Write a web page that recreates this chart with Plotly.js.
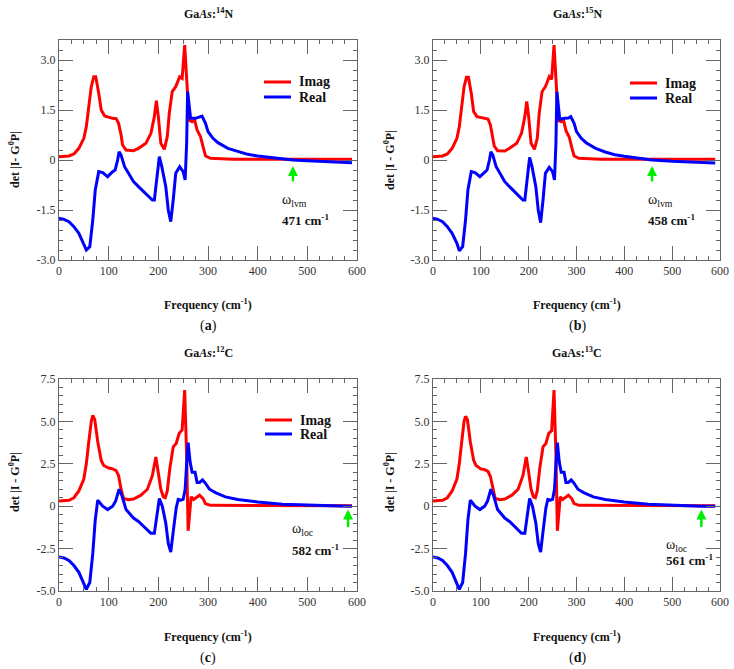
<!DOCTYPE html>
<html>
<head>
<meta charset="utf-8">
<script src="https://cdn.plot.ly/plotly-3.0.1.min.js"></script>
<style>
  html, body { margin: 0; padding: 0; background: #fff; }
  #chart { width: 734px; height: 669px; }
</style>
</head>
<body>
<div id="chart"></div>
<script>
// ---- GaAs:14N ----
const imagFreqA = [0, 20, 30, 40, 50, 55, 60, 65, 70, 74, 80, 85, 92, 100, 108, 115, 120, 125, 128, 135, 150, 160, 175, 185, 192, 196, 200, 205, 212, 218, 222, 228, 235, 243, 248, 253, 258, 262, 268, 273, 278, 285, 290, 295, 305, 350, 590];
const imagA     = [0.10, 0.12, 0.18, 0.35, 0.65, 1.0, 1.6, 2.2, 2.5, 2.5, 2.0, 1.5, 1.32, 1.28, 1.25, 1.24, 1.1, 0.75, 0.45, 0.3, 0.28, 0.35, 0.5, 0.8, 1.3, 1.78, 1.3, 0.5, 0.32, 0.7, 1.4, 2.05, 2.2, 2.5, 2.45, 3.45, 2.0, 1.2, 1.15, 1.2, 0.9, 0.7, 0.4, 0.12, 0.05, 0.02, 0.02];
const realFreqA = [0, 10, 20, 30, 40, 50, 55, 62, 68, 73, 80, 88, 98, 108, 113, 118, 121, 125, 132, 140, 150, 160, 170, 180, 188, 192, 197, 202, 207, 215, 220, 225, 230, 235, 243, 250, 254, 257, 259, 265, 275, 283, 288, 295, 300, 310, 320, 340, 360, 380, 400, 430, 460, 471, 500, 550, 590];
const realA     = [-1.75, -1.78, -1.85, -2.0, -2.2, -2.5, -2.7, -2.6, -1.8, -0.9, -0.35, -0.38, -0.5, -0.35, -0.3, 0.0, 0.25, 0.15, -0.2, -0.4, -0.65, -0.8, -0.95, -1.1, -1.2, -1.2, -0.5, 0.1, -0.2, -0.8, -1.5, -1.85, -1.2, -0.4, -0.2, -0.35, -0.6, 0.5, 2.05, 1.25, 1.25, 1.28, 1.32, 1.1, 0.85, 0.65, 0.52, 0.35, 0.25, 0.17, 0.12, 0.06, 0.02, 0.0, -0.02, -0.06, -0.08];

// ---- GaAs:15N ----
const imagFreqB = [0, 20, 30, 40, 50, 55, 60, 65, 70, 74, 80, 85, 92, 100, 108, 115, 120, 125, 128, 135, 150, 160, 175, 185, 192, 196, 200, 205, 212, 218, 222, 228, 235, 243, 248, 253, 258, 262, 268, 273, 278, 285, 290, 295, 305, 350, 590];
const imagB     = [0.10, 0.12, 0.18, 0.35, 0.65, 1.0, 1.6, 2.2, 2.48, 2.48, 2.0, 1.45, 1.3, 1.27, 1.24, 1.23, 1.05, 0.7, 0.42, 0.28, 0.27, 0.35, 0.5, 0.8, 1.3, 1.76, 1.3, 0.5, 0.32, 0.65, 1.4, 2.05, 2.2, 2.5, 2.42, 3.45, 2.0, 1.18, 1.15, 1.18, 0.88, 0.68, 0.38, 0.12, 0.05, 0.02, 0.02];
const realFreqB = [0, 10, 20, 30, 40, 50, 55, 62, 68, 73, 80, 88, 98, 108, 113, 118, 121, 125, 132, 140, 150, 160, 170, 180, 188, 192, 197, 202, 207, 215, 220, 225, 230, 235, 243, 250, 254, 257, 259, 265, 275, 283, 288, 295, 300, 310, 320, 340, 360, 380, 400, 430, 458, 500, 550, 590];
const realB     = [-1.75, -1.78, -1.85, -2.0, -2.2, -2.5, -2.72, -2.6, -1.8, -0.9, -0.35, -0.38, -0.5, -0.35, -0.3, 0.0, 0.25, 0.15, -0.2, -0.4, -0.65, -0.8, -0.95, -1.1, -1.2, -1.2, -0.5, 0.08, -0.2, -0.8, -1.5, -1.88, -1.2, -0.4, -0.22, -0.35, -0.6, 0.5, 2.05, 1.22, 1.25, 1.26, 1.3, 1.1, 0.85, 0.65, 0.52, 0.35, 0.24, 0.16, 0.11, 0.05, 0.0, -0.04, -0.07, -0.09];

// ---- GaAs:12C ----
const imagFreqC = [0, 20, 30, 40, 50, 55, 60, 65, 68, 72, 78, 85, 90, 100, 108, 115, 120, 125, 130, 140, 150, 165, 178, 188, 195, 200, 205, 210, 214, 218, 223, 230, 236, 242, 248, 253, 257, 260, 263, 266, 271, 276, 283, 290, 295, 305, 590];
const imagC     = [0.3, 0.35, 0.5, 0.9, 1.6, 2.5, 3.8, 5.0, 5.35, 5.1, 3.8, 2.7, 2.4, 2.25, 2.2, 2.1, 1.8, 1.0, 0.45, 0.38, 0.42, 0.65, 1.0, 1.8, 2.9, 2.0, 1.0, 0.55, 0.5, 0.9, 2.2, 3.5, 3.7, 4.3, 4.5, 6.85, 3.0, -1.45, -0.5, 0.55, 0.4, 0.5, 0.65, 0.45, 0.15, 0.05, 0.02];
const realFreqC = [0, 10, 20, 30, 40, 50, 55, 62, 68, 73, 78, 88, 98, 108, 114, 121, 127, 135, 150, 160, 175, 185, 192, 197, 202, 208, 215, 220, 225, 230, 236, 240, 245, 250, 254, 257, 260, 264, 268, 274, 278, 283, 289, 295, 303, 315, 335, 360, 400, 450, 500, 550, 582, 590];
const realC     = [-3.0, -3.05, -3.2, -3.5, -3.9, -4.5, -4.9, -4.5, -2.8, -0.8, 0.35, 0.0, -0.2, 0.0, 0.3, 1.0, 0.6, -0.2, -0.7, -0.9, -1.3, -1.6, -1.6, -0.7, 0.45, 0.0, -1.0, -2.2, -2.7, -1.5, -0.1, 0.4, 0.35, 0.4, 1.0, 2.5, 3.75, 2.6, 2.0, 2.0, 1.4, 1.4, 1.55, 1.35, 1.0, 0.8, 0.55, 0.4, 0.25, 0.12, 0.06, 0.02, 0.0, 0.0];

// ---- GaAs:13C ----
const imagFreqD = [0, 20, 30, 40, 50, 55, 60, 65, 68, 72, 78, 85, 90, 100, 108, 115, 120, 125, 130, 140, 150, 165, 178, 188, 195, 200, 205, 210, 214, 218, 223, 230, 236, 242, 248, 253, 257, 260, 263, 266, 271, 276, 283, 290, 295, 305, 590];
const imagD     = [0.3, 0.35, 0.5, 0.9, 1.6, 2.5, 3.8, 5.0, 5.3, 5.1, 3.8, 2.7, 2.4, 2.2, 2.15, 2.05, 1.75, 1.0, 0.45, 0.38, 0.42, 0.65, 1.0, 1.8, 2.9, 2.0, 1.0, 0.55, 0.5, 0.9, 2.2, 3.5, 3.7, 4.3, 4.45, 6.85, 3.0, -1.45, -0.5, 0.55, 0.4, 0.5, 0.65, 0.45, 0.15, 0.05, 0.02];
const realFreqD = [0, 10, 20, 30, 40, 50, 55, 62, 68, 73, 78, 88, 98, 108, 114, 121, 127, 135, 150, 160, 175, 185, 192, 197, 202, 208, 215, 220, 225, 230, 236, 240, 245, 250, 254, 257, 260, 264, 268, 274, 278, 283, 289, 295, 303, 315, 335, 360, 400, 450, 500, 561, 590];
const realD     = [-3.0, -3.05, -3.2, -3.5, -3.9, -4.5, -4.9, -4.5, -2.8, -0.8, 0.35, 0.0, -0.2, 0.0, 0.3, 1.0, 0.6, -0.2, -0.7, -0.9, -1.3, -1.6, -1.6, -0.7, 0.45, 0.0, -1.0, -2.2, -2.7, -1.5, -0.1, 0.4, 0.35, 0.4, 1.0, 2.5, 3.75, 2.6, 2.0, 2.0, 1.4, 1.4, 1.55, 1.35, 1.0, 0.8, 0.55, 0.4, 0.25, 0.12, 0.05, 0.0, -0.01];

// tick labels
const xTickVals = [0, 100, 200, 300, 400, 500, 600];
const xTickText = ['0', '100', '200', '300', '400', '500', '600'];
const yTickValsN = [-3, -1.5, 0, 1.5, 3];
const yTickTextN = ['-3.0', '-1.5', '0', '1.5', '3.0'];
const yTickValsC = [-5, -2.5, 0, 2.5, 5, 7.5];
const yTickTextC = ['-5.0', '-2.5', '0', '2.5', '5.0', '7.5'];

// series names
const seriesNames = ['Imag', 'Real'];

// local mode markers: [frequency, label]
const modeA = [471, 'ω<sub>lvm</sub>'];
const modeB = [458, 'ω<sub>lvm</sub>'];
const modeC = [582, 'ω<sub>loc</sub>'];
const modeD = [561, 'ω<sub>loc</sub>'];

const W = 734, H = 669;
const SERIF = 'Liberation Serif';
const RED = '#ff0000', BLUE = '#0000ff', GREEN = '#00ee00';
const AXIS = '#666';

function px(x) { return x / W; }
function py(y) { return 1 - y / H; }

function line(x, y, color, name, xa, ya) {
  return {
    type: 'scatter', mode: 'lines', x: x, y: y, name: name,
    xaxis: xa, yaxis: ya, showlegend: false,
    line: { color: color, width: 3 }
  };
}

const traces = [
  line(imagFreqA, imagA, RED, seriesNames[0], 'x', 'y'),
  line(realFreqA, realA, BLUE, seriesNames[1], 'x', 'y'),
  line(imagFreqB, imagB, RED, seriesNames[0], 'x2', 'y2'),
  line(realFreqB, realB, BLUE, seriesNames[1], 'x2', 'y2'),
  line(imagFreqC, imagC, RED, seriesNames[0], 'x3', 'y3'),
  line(realFreqC, realC, BLUE, seriesNames[1], 'x3', 'y3'),
  line(imagFreqD, imagD, RED, seriesNames[0], 'x4', 'y4'),
  line(realFreqD, realD, BLUE, seriesNames[1], 'x4', 'y4')
];

function xAxis(domain, anchor) {
  return {
    domain: domain, anchor: anchor, range: [0, 600],
    tickmode: 'array', tickvals: xTickVals, ticktext: xTickText,
    ticks: 'inside', ticklen: 14, tickwidth: 1, tickcolor: AXIS,
    minor: { dtick: 25, tick0: 0, ticks: 'inside', ticklen: 4, tickcolor: AXIS, tickwidth: 1 },
    showline: true, linecolor: AXIS, linewidth: 1, mirror: 'ticks',
    showgrid: false, zeroline: false,
    tickfont: { family: SERIF, size: 12, color: '#333' }
  };
}
function yAxis(domain, anchor, range, vals, text, minorStep) {
  return {
    domain: domain, anchor: anchor, range: range,
    tickmode: 'array', tickvals: vals, ticktext: text,
    ticks: 'inside', ticklen: 14, tickwidth: 1, tickcolor: AXIS,
    minor: { dtick: minorStep, tick0: 0, ticks: 'inside', ticklen: 4, tickcolor: AXIS, tickwidth: 1 },
    showline: true, linecolor: AXIS, linewidth: 1, mirror: 'ticks',
    showgrid: false, zeroline: false,
    tickfont: { family: SERIF, size: 12, color: '#333' }
  };
}

const colL = [px(59), px(357)], colR = [px(433), px(720)];
const rowT = [py(260), py(40)], rowB = [py(591), py(379)];

function txt(x, y, text, opts) {
  return Object.assign({
    xref: 'paper', yref: 'paper', x: px(x), y: py(y), text: text, showarrow: false,
    xanchor: 'center', yanchor: 'middle',
    font: { family: SERIF, size: 12, color: '#111' }
  }, opts || {});
}

const bold = { family: SERIF, size: 12, color: '#111', weight: 'bold' };
const legendFont = { family: SERIF, size: 14, color: '#111', weight: 'bold' };

// legend keys: a short coloured stroke with the series name beside it
const shapes = [];
const legendNotes = [];
function legendKey(x0, x1, tx, yImag, yReal) {
  [[yImag, RED, seriesNames[0]], [yReal, BLUE, seriesNames[1]]].forEach(function (k) {
    shapes.push({ type: 'line', xref: 'paper', yref: 'paper', x0: px(x0), x1: px(x1), y0: py(k[0]), y1: py(k[0]),
      line: { color: k[1], width: 3 } });
    legendNotes.push(txt(tx, k[0], '<b>' + k[2] + '</b>', { xanchor: 'left', font: legendFont }));
  });
}
legendKey(264, 291, 297, 82, 97);
legendKey(630, 657, 663, 83, 98);
legendKey(265, 292, 298, 420, 434);

function modeArrow(xa, ya, mode, tipY, len) {
  return {
    xref: xa, yref: ya, x: mode[0], y: tipY, ax: 0, ay: len, text: '',
    showarrow: true, arrowhead: 2, arrowsize: 0.8, arrowwidth: 2.5, arrowcolor: GREEN, standoff: 0
  };
}
function modeLabel(xa, ya, x, y, text, size) {
  return {
    xref: xa, yref: ya, x: x, y: y, text: text, showarrow: false,
    xanchor: 'left', yanchor: 'middle',
    font: { family: SERIF, size: size, color: '#111' }
  };
}

const annotations = [
  // panel titles
  txt(208, 13, '<b>Ga<i>As</i>:<sup>14</sup>N</b>', { font: bold }),
  txt(577, 13, '<b>Ga<i>As</i>:<sup>15</sup>N</b>', { font: bold }),
  txt(208, 352, '<b>Ga<i>As</i>:<sup>12</sup>C</b>', { font: bold }),
  txt(577, 352, '<b>GaAs:<sup>13</sup>C</b>', { font: bold }),
  // y titles
  txt(14, 160, '<b>det |I- G<sup>0</sup>P|</b>', { font: bold, textangle: -90 }),
  txt(389, 160, '<b>det |I - G<sup>0</sup>P|</b>', { font: bold, textangle: -90 }),
  txt(14, 482, '<b>det |I - G<sup>0</sup>P|</b>', { font: bold, textangle: -90 }),
  txt(389, 482, '<b>det |I - G<sup>0</sup>P|</b>', { font: bold, textangle: -90 }),
  // x titles
  txt(208, 304, '<b>Frequency (cm<sup>-1</sup>)</b>', { font: bold }),
  txt(577, 304, '<b>Frequency (cm<sup>-1</sup>)</b>', { font: bold }),
  txt(208, 636, '<b>Frequency (cm<sup>-1</sup>)</b>', { font: bold }),
  txt(577, 636, '<b>Frequency (cm<sup>-1</sup>)</b>', { font: bold }),
  // panel letters
  txt(208, 326, '(<b>a</b>)', { font: { family: SERIF, size: 14, color: '#111' } }),
  txt(577, 326, '(<b>b</b>)', { font: { family: SERIF, size: 14, color: '#111' } }),
  txt(208, 658, '(<b>c</b>)', { font: { family: SERIF, size: 14, color: '#111' } }),
  txt(577, 658, '(<b>d</b>)', { font: { family: SERIF, size: 14, color: '#111' } }),
  // local mode arrows and labels
  modeArrow('x', 'y', modeA, -0.18, 17),
  modeLabel('x', 'y', 445, -1.2, modeA[1], 14),
  modeLabel('x', 'y', 445, -1.8, '<b>' + modeA[0] + ' cm<sup>-1</sup></b>', 13),
  modeArrow('x2', 'y2', modeB, -0.18, 17),
  modeLabel('x2', 'y2', 446, -1.2, modeB[1], 14),
  modeLabel('x2', 'y2', 446, -1.8, '<b>' + modeB[0] + ' cm<sup>-1</sup></b>', 13),
  modeArrow('x3', 'y3', modeC, -0.2, 19),
  modeLabel('x3', 'y3', 465, -1.4, modeC[1], 14),
  modeLabel('x3', 'y3', 465, -2.6, '<b>' + modeC[0] + ' cm<sup>-1</sup></b>', 13),
  modeArrow('x4', 'y4', modeD, -0.2, 19),
  modeLabel('x4', 'y4', 483, -2.3, modeD[1], 14),
  modeLabel('x4', 'y4', 483, -3.2, '<b>' + modeD[0] + ' cm<sup>-1</sup></b>', 13)
].concat(legendNotes);

const layout = {
  width: W, height: H,
  margin: { l: 0, r: 0, t: 0, b: 0 },
  paper_bgcolor: '#fff', plot_bgcolor: '#fff',
  font: { family: SERIF },
  xaxis: xAxis(colL, 'y'),
  yaxis: yAxis(rowT, 'x', [-3, 3.6], yTickValsN, yTickTextN, 0.3),
  xaxis2: xAxis(colR, 'y2'),
  yaxis2: yAxis(rowT, 'x2', [-3, 3.6], yTickValsN, yTickTextN, 0.3),
  xaxis3: xAxis(colL, 'y3'),
  yaxis3: yAxis(rowB, 'x3', [-5, 7.5], yTickValsC, yTickTextC, 0.5),
  xaxis4: xAxis(colR, 'y4'),
  yaxis4: yAxis(rowB, 'x4', [-5, 7.5], yTickValsC, yTickTextC, 0.5),
  shapes: shapes,
  annotations: annotations,
  showlegend: false
};

Plotly.newPlot('chart', traces, layout, { staticPlot: true, displayModeBar: false });
</script>
</body>
</html>
